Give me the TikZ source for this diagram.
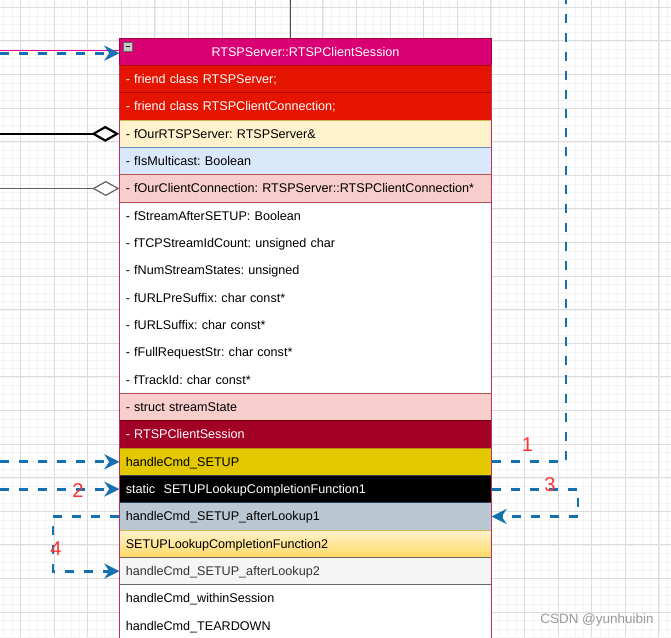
\documentclass[tikz,border=0pt]{standalone}
\usepackage{fontspec}
\setmainfont{Liberation Sans}
\usetikzlibrary{arrows.meta}
\definecolor{gridmin}{HTML}{F3F3F3}
\definecolor{gridmaj}{HTML}{DCDCDC}
\definecolor{hdrfill}{HTML}{D80073}
\definecolor{hdrdraw}{HTML}{A50040}
\definecolor{classdraw}{HTML}{C03068}
\definecolor{redfill}{HTML}{E51400}
\definecolor{reddraw}{HTML}{B20000}
\definecolor{yelfill}{HTML}{FFF2CC}
\definecolor{yeldraw}{HTML}{D6B656}
\definecolor{yelbot}{HTML}{FFD966}
\definecolor{bluefill}{HTML}{DAE8FC}
\definecolor{bluedraw}{HTML}{6C8EBF}
\definecolor{pinkfill}{HTML}{F8CECC}
\definecolor{pinkdraw}{HTML}{B85450}
\definecolor{darkred}{HTML}{A20025}
\definecolor{darkreddraw}{HTML}{6F0000}
\definecolor{goldfill}{HTML}{E3C800}
\definecolor{golddraw}{HTML}{B09500}
\definecolor{blackdraw}{HTML}{314354}
\definecolor{slatefill}{HTML}{BAC8D3}
\definecolor{slatedraw}{HTML}{23445D}
\definecolor{greyfill}{HTML}{F5F5F5}
\definecolor{greydraw}{HTML}{666666}
\definecolor{greytext}{HTML}{333333}
\definecolor{flowblue}{HTML}{1570B0}
\definecolor{numred}{HTML}{FF3333}
\definecolor{wmark}{HTML}{9A9A9A}
\frenchspacing
\begin{document}
\begin{tikzpicture}[x=1pt,y=-1pt,
  every node/.style={font=\fontsize{12.6}{15}\selectfont},
  gridminor/.style={draw=gridmin, line width=0.7pt},
  gridmajor/.style={draw=gridmaj, line width=0.9pt},
  rowbox/.style={anchor=north west, minimum width=371.3pt, minimum height=27.33pt,
     text width=359.3pt, inner xsep=6pt, inner ysep=0pt, align=left,
     text height=8.6pt, text depth=0pt, line width=1pt},
  flow/.style={draw=flowblue, line width=2.9pt, dash pattern=on 9pt off 10pt},
  flowtip/.style={-{Stealth[length=15pt,width=15pt,inset=5pt,line width=0.1pt]}},
  numlabel/.style={text=numred, font=\fontsize{20}{22}\selectfont, inner sep=0pt},
]
\useasboundingbox (0,0) rectangle (671,637);
\clip (0,0) rectangle (671,637);
\fill[white] (0,0) rectangle (671,637);
% grid
\foreach \i in {0,...,80} \draw[gridminor] ({3.7+8.4*\i},0) -- ({3.7+8.4*\i},637);
\foreach \i in {0,...,76} \draw[gridminor] (0,{-0.9+8.4*\i}) -- (671,{-0.9+8.4*\i});
\foreach \i in {0,...,20} \draw[gridmajor] ({20.5+33.6*\i},0) -- ({20.5+33.6*\i},637);
\foreach \i in {0,...,19} \draw[gridmajor] (0,{7.3+33.6*\i}) -- (671,{7.3+33.6*\i});

% free ends
\coordinate (O) at (0,0);
\coordinate (T) at (290.5,0);
\coordinate (M) at (0,50.7);
\coordinate (B) at (0,53.2);
\coordinate (R1) at (566,0);
\coordinate (C3) at (578,0);
\coordinate (C4) at (53,0);

% class body
\node[draw=classdraw, fill=white, line width=1pt, anchor=north west,
      minimum width=371.3pt, minimum height=600pt, inner sep=0pt] (body) at (119.3,65) {};
% header
\node[draw=hdrdraw, fill=hdrfill, line width=1pt, anchor=north west,
      minimum width=371.3pt, minimum height=27.33pt, inner sep=0pt,
      text=white, text height=8.6pt, text depth=0pt] (hdr) at (119.3,37.7) {RTSPServer::RTSPClientSession};
\draw[draw=gray!80!black, fill=gray!45, line width=0.6pt] (123.5,42.2) rectangle (132.5,51.2);
\draw[draw=gray!25!black, line width=1.2pt] (125.6,46.7) -- (130.4,46.7);

% rows
\node[rowbox, draw=reddraw, fill=redfill, text=white] (r0) at (119.3,{65+27.33*0}) {- friend class RTSPServer;};
\node[rowbox, draw=reddraw, fill=redfill, text=white] (r1) at (119.3,{65+27.33*1}) {- friend class RTSPClientConnection;};
\node[rowbox, draw=yeldraw, fill=yelfill] (r2) at (119.3,{65+27.33*2}) {- fOurRTSPServer: RTSPServer\&};
\node[rowbox, draw=bluedraw, fill=bluefill] (r3) at (119.3,{65+27.33*3}) {- fIsMulticast: Boolean};
\node[rowbox, draw=pinkdraw, fill=pinkfill] (r4) at (119.3,{65+27.33*4}) {- fOurClientConnection: RTSPServer::RTSPClientConnection*};
\node[rowbox] (r5) at (119.3,{65+27.33*5}) {- fStreamAfterSETUP: Boolean};
\node[rowbox] (r6) at (119.3,{65+27.33*6}) {- fTCPStreamIdCount: unsigned char};
\node[rowbox] (r7) at (119.3,{65+27.33*7}) {- fNumStreamStates: unsigned};
\node[rowbox] (r8) at (119.3,{65+27.33*8}) {- fURLPreSuffix: char const*};
\node[rowbox] (r9) at (119.3,{65+27.33*9}) {- fURLSuffix: char const*};
\node[rowbox] (r10) at (119.3,{65+27.33*10}) {- fFullRequestStr: char const*};
\node[rowbox] (r11) at (119.3,{65+27.33*11}) {- fTrackId: char const*};
\node[rowbox, draw=pinkdraw, fill=pinkfill] (r12) at (119.3,{65+27.33*12}) {- struct streamState};
\node[rowbox, draw=darkreddraw, fill=darkred, text=white] (r13) at (119.3,{65+27.33*13}) {- RTSPClientSession};
\node[rowbox, draw=golddraw, fill=goldfill] (r14) at (119.3,{65+27.33*14}) {handleCmd\_SETUP};
\node[rowbox, draw=blackdraw, fill=black, text=white] (r15) at (119.3,{65+27.33*15}) {static\ \ SETUPLookupCompletionFunction1};
\node[rowbox, draw=slatedraw, fill=slatefill] (r16) at (119.3,{65+27.33*16}) {handleCmd\_SETUP\_afterLookup1};
\node[rowbox, draw=yeldraw, top color=yelfill, bottom color=yelbot] (r17) at (119.3,{65+27.33*17}) {SETUPLookupCompletionFunction2};
\node[rowbox, draw=greydraw, fill=greyfill, text=greytext] (r18) at (119.3,{65+27.33*18}) {handleCmd\_SETUP\_afterLookup2};
\node[rowbox] (r19) at (119.3,{65+27.33*19}) {handleCmd\_withinSession};
\node[rowbox] (r20) at (119.3,{65+27.33*20}) {handleCmd\_TEARDOWN};
\draw[classdraw, line width=1pt] (body.north west) -- (body.south west) (body.north east) -- (body.south east);

% connectors at the top and left
\draw[draw=gray!60!black, line width=1.3pt] (T) -- (T |- hdr.north);
\draw[draw=magenta, line width=1.3pt] (M) -- (M -| hdr.west);
\draw[flow, flowtip] (B) -- (B -| hdr.west);
\draw[black, line width=2.2pt, -{Diamond[fill=white,length=28pt,width=16pt]}] (r2.west -| O) -- (r2.west);
\draw[draw=gray!75!black, line width=1.2pt, -{Diamond[fill=white,length=27pt,width=15pt]}] (r4.west -| O) -- (r4.west);

% numbered flow
\draw[flow, flowtip] (r14.west -| O) -- (r14.west);
\draw[flow] (r14.east) -| (R1);
\node[numlabel] (n1) at (527.5,445) {1};
\draw[flow, flowtip] (r15.west -| O) -- (r15.west);
\node[numlabel] (n2) at (78,490.5) {2};
\draw[flow, flowtip] (r15.east) -- (r15.east -| C3) -- (r16.east -| C3) -- (r16.east);
\node[numlabel] (n3) at (550,485) {3};
\draw[flow, flowtip] (r16.west) -- (r16.west -| C4) -- (r18.west -| C4) -- (r18.west);
\node[numlabel] (n4) at (56,549) {4};

\node[text=wmark, font=\fontsize{13.5}{15}\selectfont] (wm) at (597,620) {CSDN @yunhuibin};
\end{tikzpicture}
\end{document}
